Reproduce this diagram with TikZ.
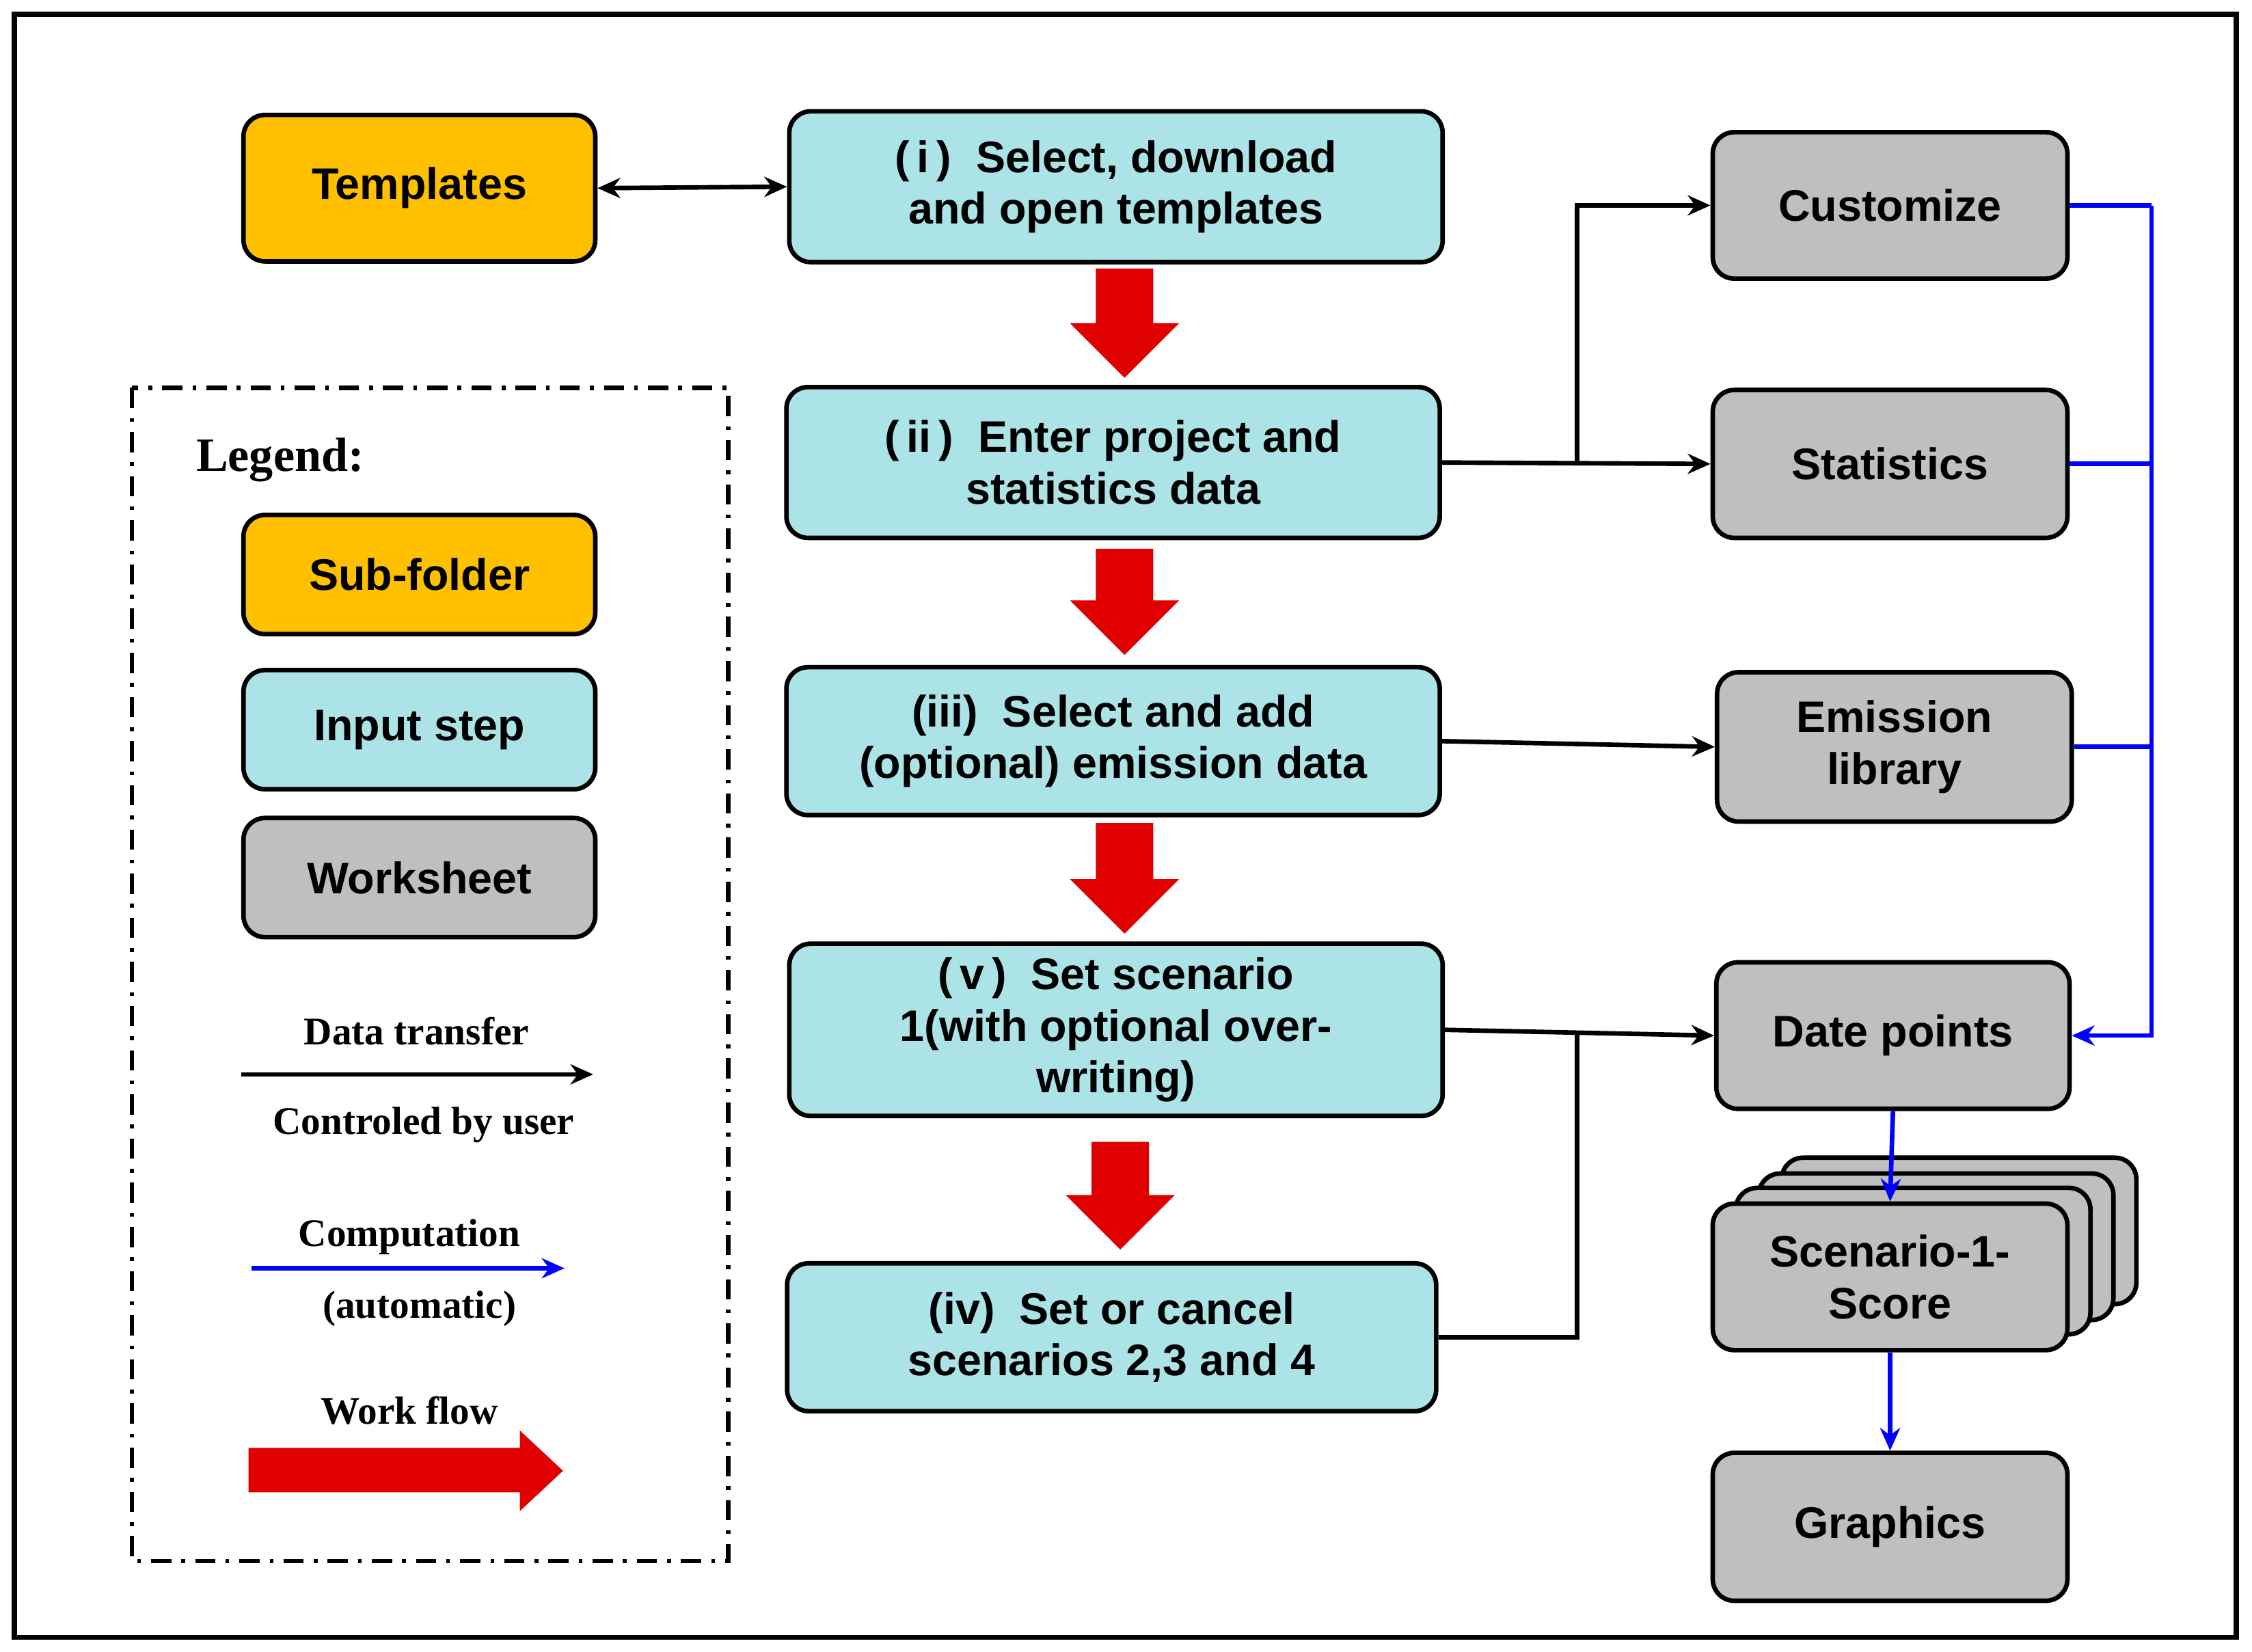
\documentclass[tikz,border=0pt]{standalone}
\usepackage{fontspec}
\setmainfont{Liberation Serif}
\newfontfamily\boxfont{Liberation Sans}
\usetikzlibrary{arrows.meta}
\definecolor{orng}{HTML}{FFC000}
\definecolor{cyn}{HTML}{ABE3E6}
\definecolor{gry}{HTML}{BFBFBF}
\definecolor{rd}{HTML}{E00000}
\newcommand{\wfdown}[3]{\fill[rd] (#1-20,#2) -- (#1+20,#2) -- (#1+20,#3-38) -- (#1+38,#3-38) -- (#1,#3) -- (#1-38,#3-38) -- (#1-20,#3-38) -- cycle;}
\begin{document}
\begin{tikzpicture}[x=0.02cm,y=-0.02cm,
  bx/.style={draw=black,line width=1.8pt,rounded corners=0.3cm,align=center,
    font=\boxfont\fontsize{17.5}{20.5}\selectfont\bfseries,inner sep=0pt},
  sub/.style={bx,fill=orng},
  inp/.style={bx,fill=cyn},
  wks/.style={bx,fill=gry},
  dat/.style={line width=1.8pt,-{Stealth[length=9pt,width=8pt]}},
  cmp/.style={line width=1.8pt,blue,-{Stealth[length=9pt,width=8pt]}},
  lg/.style={font=\fontsize{15.5}{18}\selectfont\bfseries}]
\useasboundingbox (0,0) rectangle (1568,1150);
\draw[line width=2pt] (10,10) rectangle (1557,1140);
% main steps
\node[sub,minimum width=4.9cm,minimum height=2.04cm] (tpl) at (292,131) {Templates};
\node[inp,minimum width=9.1cm,minimum height=2.1cm] (s1) at (777,130) {(\,i\,)\ \ Select, download\\and open templates};
\node[inp,minimum width=9.1cm,minimum height=2.1cm] (s2) at (775,322) {(\,ii\,)\ \ Enter project and\\statistics data};
\node[inp,minimum width=9.1cm,minimum height=2.06cm] (s3) at (775,516) {(iii)\ \ Select and add\\(optional) emission data};
\node[inp,minimum width=9.1cm,minimum height=2.4cm] (s5) at (777,717) {(\,v\,)\ \ Set scenario\\1(with optional over-\\writing)};
\node[inp,minimum width=9.04cm,minimum height=2.06cm] (s4) at (774,931) {(iv)\ \ Set or cancel\\scenarios 2,3 and 4};
% worksheets
\node[wks,minimum width=4.94cm,minimum height=2.04cm] (cus) at (1316,143) {Customize};
\node[wks,minimum width=4.94cm,minimum height=2.06cm] (sta) at (1316,323) {Statistics};
\node[wks,minimum width=4.94cm,minimum height=2.08cm] (emi) at (1319,520) {Emission\\library};
\node[wks,minimum width=4.92cm,minimum height=2.04cm] (dat) at (1318,721) {Date points};
\node[wks,minimum width=4.94cm,minimum height=2.04cm] (b3) at (1364,857) {};
\node[wks,minimum width=4.94cm,minimum height=2.04cm] (b2) at (1348,868) {};
\node[wks,minimum width=4.94cm,minimum height=2.04cm] (b1) at (1332,878) {};
\node[wks,minimum width=4.94cm,minimum height=2.04cm] (sc) at (1316,889) {Scenario-1-\\Score};
\node[wks,minimum width=4.94cm,minimum height=2.06cm] (gra) at (1316,1063) {Graphics};
% work flow arrows
\wfdown{783}{187}{263}
\wfdown{783}{382}{456}
\wfdown{783}{573}{650}
\wfdown{780}{795}{870}
% data transfer
\draw[line width=1.8pt,{Stealth[length=9pt,width=8pt]}-{Stealth[length=9pt,width=8pt]}] (tpl.east) -- (s1.west);
\coordinate (j1) at (1098,322);
\coordinate (j1t) at (1098,143);
\draw[dat] (s2.east) -- (sta.west);
\draw[dat] (j1) -- (j1t) -- (cus.west);
\draw[dat] (s3.east) -- (emi.west);
\draw[dat] (s5.east) -- (dat.west);
\coordinate (j2) at (1098,931);
\coordinate (j2t) at (1098,719);
\draw[line width=1.8pt] (s4.east) -- (j2) -- (j2t);
% computation
\coordinate (c1) at (1498,143);
\coordinate (c2) at (1498,323);
\coordinate (c3) at (1498,520);
\coordinate (c4) at (1498,721);
\draw[line width=1.8pt,blue] (cus.east) -- (c1);
\draw[line width=1.8pt,blue] (sta.east) -- (c2);
\draw[line width=1.8pt,blue] (emi.east) -- (c3);
\draw[cmp] (c1) -- (c4) -- (dat.east);
\draw[cmp] (dat.south) -- (sc.north);
\draw[cmp] (sc.south) -- (gra.north);
% legend
\draw[line width=1.7pt,dash pattern=on 8pt off 4pt on 1.5pt off 4pt] (92,270) rectangle (507,1087);
\node[font=\fontsize{19}{22}\selectfont\bfseries] (lgt) at (195,320) {Legend:};
\node[sub,minimum width=4.9cm,minimum height=1.66cm] (l1) at (292,400) {Sub-folder};
\node[inp,minimum width=4.9cm,minimum height=1.66cm] (l2) at (292,508) {Input step};
\node[wks,minimum width=4.9cm,minimum height=1.66cm] (l3) at (292,611) {Worksheet};
\node[lg] (t1) at (290,718) {Data transfer};
\coordinate (a1) at (168,748); \coordinate (a2) at (413,748);
\draw[dat] (a1) -- (a2);
\node[lg] (t2) at (295,783) {Controled by user};
\node[lg] (t3) at (285,861) {Computation};
\coordinate (b1s) at (175,883); \coordinate (b1e) at (393,883);
\draw[cmp] (b1s) -- (b1e);
\node[lg] (t4) at (292,911) {(automatic)};
\node[lg] (t5) at (285,982) {Work flow};
\fill[rd] (173,1008) -- (362,1008) -- (362,996) -- (392,1024) -- (362,1052) -- (362,1039) -- (173,1039) -- cycle;
\end{tikzpicture}
\end{document}
